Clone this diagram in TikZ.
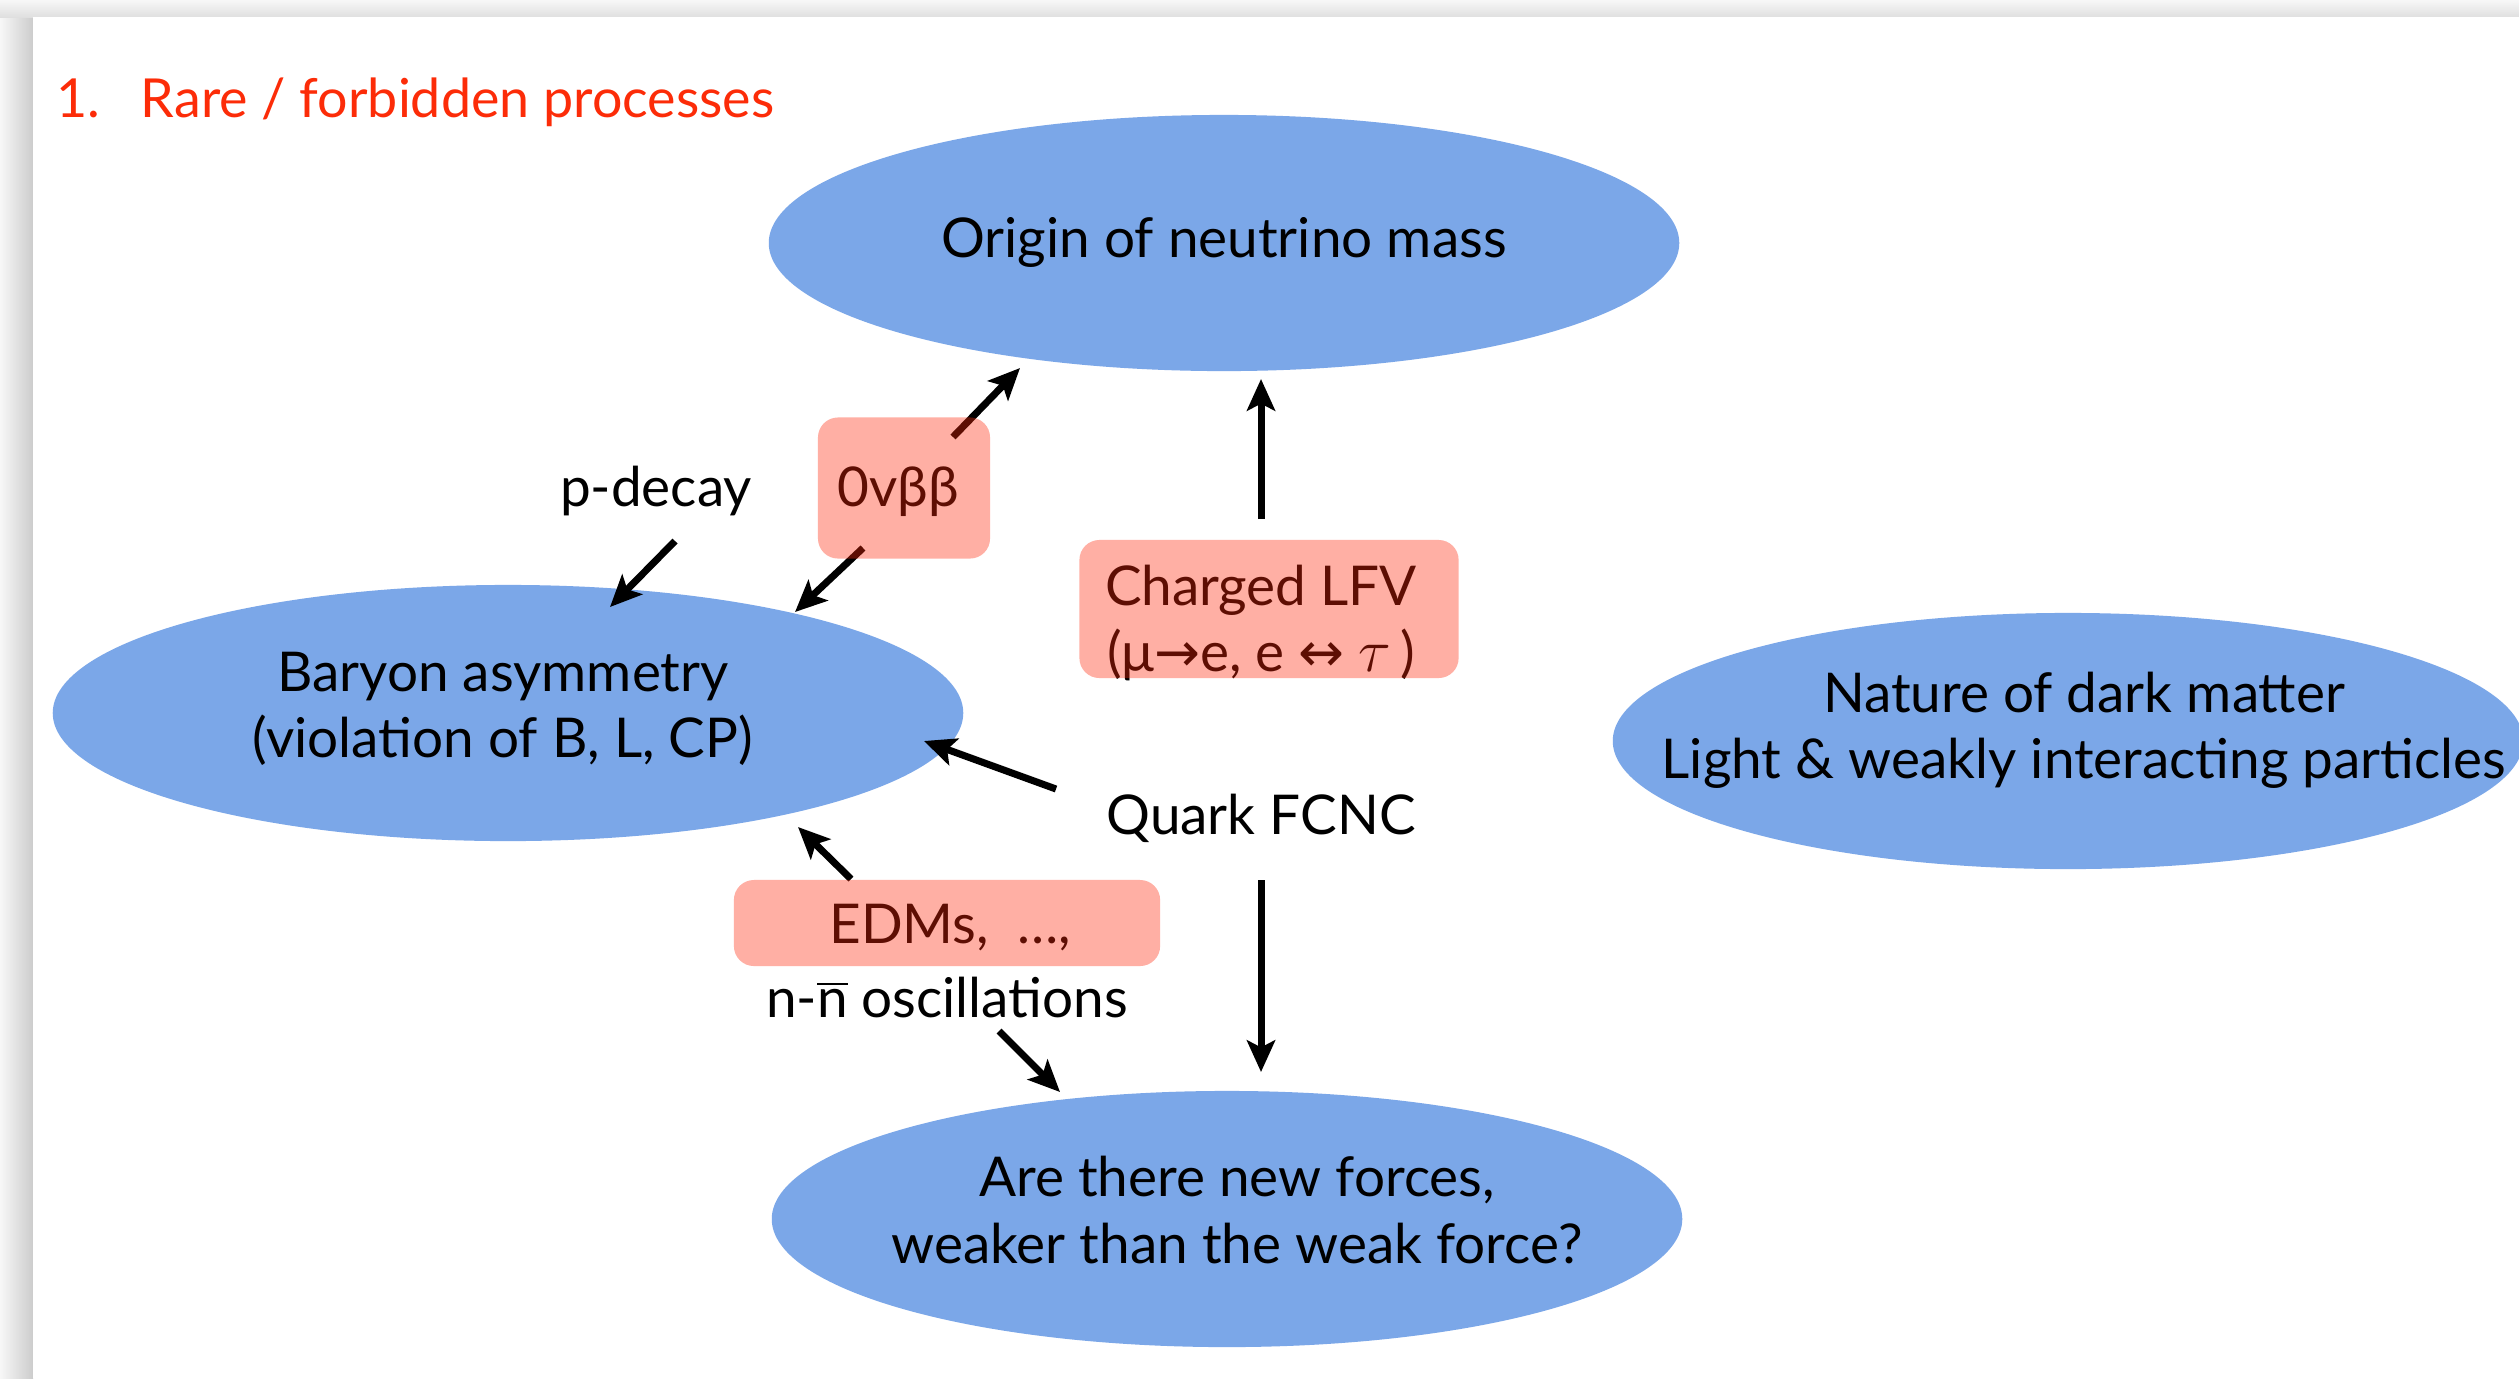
\documentclass[tikz,border=0pt]{standalone}
\usepackage{fontspec}
\setmainfont{Lato}
\newfontfamily\arrowfont{DejaVu Sans}
\usetikzlibrary{arrows.meta,shapes.geometric}

\definecolor{blobblue}{RGB}{123,167,232}
\definecolor{boxred}{RGB}{255,40,10}
\definecolor{titlered}{RGB}{252,44,8}

\tikzset{
  blob/.style={ellipse, fill=blobblue, minimum width=9.1cm, minimum height=2.56cm, inner sep=0pt},
  txt/.style={font=\fontsize{15.6}{18.8}\selectfont, align=center, inner sep=0pt},
  pinkbox/.style={rounded corners=0.2cm, fill=boxred, fill opacity=0.37, inner sep=0pt},
  arr/.style={-{Stealth[length=9pt,width=8pt,inset=2pt]}, line width=2pt},
}

\begin{document}
\begin{tikzpicture}[x=0.01cm, y=-0.01cm]
  % slide with its shadow
  \useasboundingbox (0,0) rectangle (2519,1378);
  \clip (0,0) rectangle (2519,1378);
  \shade[left color=gray!6, right color=gray!40] (0,0) rectangle (33,1378);
  \shade[top color=gray!6, bottom color=gray!25] (0,0) rectangle (2519,17);
  \fill[white] (33,17) rectangle (2519,1378);

  \node[anchor=base west, inner sep=0pt, text=titlered, font=\fontsize{15.3}{20}\selectfont] (title) at (56,117)
    {1.\hspace{0.75em}Rare / forbidden processes};

  % questions
  \node[blob] (origin) at (1224,243) {};
  \node[blob] (baryon) at (508,713) {};
  \node[blob] (dark) at (2068,741) {};
  \node[blob] (forces) at (1227,1219) {};

  \node[txt, anchor=base] (origintxt) at (1224,257) {Origin of neutrino mass};
  \node[txt] (baryontxt) at (503,709) {Baryon asymmetry\\(violation of B, L, CP)};
  \node[txt] (darktxt) at (2084,730) {Nature of dark matter\\Light \& weakly interacting particles};
  \node[txt] (forcestxt) at (1237,1210) {Are there new forces,\\weaker than the weak force?};

  % processes
  \node[txt, anchor=base] (pdecay) at (656,506) {p-decay};
  \node[txt, anchor=base] (bb) at (898,506) {0vββ};
  \node[txt] (lfv) at (1261,623) {Charged LFV\\(μ{\arrowfont→}e, e {\arrowfont↔} {\fontsize{19}{20}\selectfont$\tau$}\,)};
  \node[txt, anchor=base] (fcnc) at (1261,834) {Quark FCNC};
  \node[txt, anchor=base] (edm) at (950,943) {EDMs,~ …,};
  \node[txt, anchor=base] (osc) at (947,1017) {n-$\overline{\mbox{n}}$ oscillations};

  \draw[arr] ([shift={(19,35)}]pdecay.base) -- ([shift={(102,-106)}]baryon.center);
  \draw[arr] ([shift={(-35,42)}]bb.base) -- ([shift={(287,-101)}]baryon.center);
  \draw[arr] ([shift={(55,-69)}]bb.base) -- ([shift={(-204,125)}]origin.center);
  \draw[arr] ([shift={(0,-104)}]lfv.center) -- ([shift={(37,136)}]origin.center);
  \draw[arr] ([shift={(-205,-45)}]fcnc.base) -- ([shift={(416,28)}]baryon.center);
  \draw[arr] ([shift={(0,46)}]fcnc.base) -- ([shift={(34,-147)}]forces.center);
  \draw[arr] ([shift={(-99,-64)}]edm.base) -- ([shift={(290,114)}]baryon.center);
  \draw[arr] ([shift={(52,14)}]osc.base) -- ([shift={(-167,-127)}]forces.center);

  % see-through boxes
  \node[pinkbox, minimum width=1.72cm, minimum height=1.41cm] (bbbox) at (904,488) {};
  \node[pinkbox, minimum width=3.79cm, minimum height=1.38cm] (lfvbox) at (1269,609) {};
  \node[pinkbox, minimum width=4.26cm, minimum height=0.86cm] (edmbox) at (947,923) {};
\end{tikzpicture}
\end{document}
